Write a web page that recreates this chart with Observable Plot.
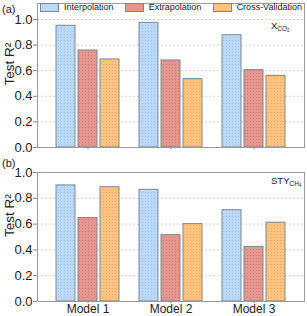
<!DOCTYPE html>
<html><head><meta charset="utf-8">
<script src="https://cdn.jsdelivr.net/npm/d3@7"></script>
<script src="https://cdn.jsdelivr.net/npm/@observablehq/plot@0.6"></script>
<style>
body{margin:0;background:#fff;font-family:"Liberation Sans",Arial,sans-serif;}
#wrap{position:relative;width:307px;height:316px;overflow:hidden;background:#fff}
.panel{position:absolute;left:0}
.tag{position:absolute;font-size:11px;color:#222;line-height:1}
.ann{position:absolute;font-size:9.5px;color:#222;line-height:1;white-space:nowrap}
.ann sub{font-size:6.5px;vertical-align:-2px;line-height:0}
.ann sub sub{font-size:4.5px;vertical-align:-1px}
#legend{position:absolute;left:40px;width:262px;top:3px;display:flex;justify-content:space-between;font-size:9px;color:#222;line-height:1}
#legend .it{display:flex;align-items:center;white-space:nowrap}
#legend .sw{width:17px;height:7px;border:1px solid #7d8792;margin-right:5px}
</style></head>
<body>
<div id="wrap"></div>
<script>
const models = ["Model 1", "Model 2", "Model 3"];
const methods = ["Interpolation", "Extrapolation", "Cross-Validation"];
const colors = ["#b9d9f6", "#e4968f", "#fdc47f"];
const dotColors = ["#a3c6e6", "#d07f79", "#eaae6a"];
const yTicks = [0, 0.2, 0.4, 0.6, 0.8, 1.0];

// Panel (a) X_CO2, values per method across models
const co2Interpolation = [0.951, 0.974, 0.877];
const co2Extrapolation = [0.758, 0.680, 0.604];
const co2CrossValidation = [0.688, 0.534, 0.560];

// Panel (b) STY_CH4
const ch4Interpolation = [0.900, 0.866, 0.708];
const ch4Extrapolation = [0.647, 0.514, 0.423];
const ch4CrossValidation = [0.886, 0.600, 0.611];

function rowsOf(series) {
  return models.flatMap((m, i) => methods.map((s, j) => ({model: m, method: s, value: series[j][i]})));
}
const rowsA = rowsOf([co2Interpolation, co2Extrapolation, co2CrossValidation]);
const rowsB = rowsOf([ch4Interpolation, ch4Extrapolation, ch4CrossValidation]);

const barStep = 22; // pixel step between bars inside a group

function patternDefs(prefix) {
  return () => {
    const ns = "http://www.w3.org/2000/svg";
    const defs = document.createElementNS(ns, "defs");
    colors.forEach((c, j) => {
      const p = document.createElementNS(ns, "pattern");
      p.setAttribute("id", prefix + j);
      p.setAttribute("width", 3); p.setAttribute("height", 3);
      p.setAttribute("patternUnits", "userSpaceOnUse");
      const r = document.createElementNS(ns, "rect");
      r.setAttribute("width", 3); r.setAttribute("height", 3); r.setAttribute("fill", c);
      const d = document.createElementNS(ns, "rect");
      d.setAttribute("x", 1); d.setAttribute("y", 1);
      d.setAttribute("width", 1); d.setAttribute("height", 1); d.setAttribute("fill", dotColors[j]);
      p.appendChild(r); p.appendChild(d); defs.appendChild(p);
    });
    return defs;
  };
}

function panel(rows, o) {
  const bars = methods.map((m, j) => Plot.barY(rows.filter(r => r.method === m), {
    x: "model", y: "value", fill: `url(#${o.id}${j})`, stroke: "#7d8792", strokeWidth: 1,
    insetLeft: j * barStep, insetRight: (2 - j) * barStep
  }));
  return Plot.plot({
    width: 307, height: o.height,
    marginLeft: 37, marginRight: 3, marginTop: o.mt, marginBottom: o.mb,
    style: {fontFamily: '"Liberation Sans", Arial, sans-serif', fontSize: "13px", color: "#222", background: "transparent", overflow: "visible"},
    x: {domain: models, paddingInner: 0.238, paddingOuter: 0.214, label: null},
    y: {domain: [0, o.ymax], label: null},
    marks: [
      patternDefs(o.id),
      Plot.gridY(o.grid, {stroke: "#d4d4d4", strokeOpacity: 1, strokeDasharray: "2,2"}),
      ...bars,
      Plot.frame({stroke: "#9a9a9a"}),
      Plot.axisY(yTicks, {tickFormat: d3.format(".1f"), tickSize: 4, tickPadding: 1, label: null, stroke: "#888", fill: "#222"}),
      Plot.axisX({tickSize: 2, tickPadding: 1, fontSize: 12, stroke: "#888", fill: "#222", tickFormat: o.labels ? (d => d) : (() => ""), label: null}),
      Plot.text(["Test R²"], {frameAnchor: "left", text: d => d, dx: -28, dy: o.labelDy, rotate: -90, fontSize: 13.5, fill: "#222"})
    ]
  });
}

const wrap = document.getElementById("wrap");
const a = panel(rowsA, {id: "pa", height: 152, mt: 3, mb: 5, ymax: 1.125, grid: [0.2, 0.4, 0.6, 0.8, 1.0], labels: false, labelDy: 10});
a.classList.add("panel"); a.style.top = "0px";
const b = panel(rowsB, {id: "pb", height: 164, mt: 20, mb: 15, ymax: 1.0, grid: [0.2, 0.4, 0.6, 0.8], labels: true, labelDy: 0});
b.classList.add("panel"); b.style.top = "152px";
wrap.appendChild(a);
wrap.appendChild(b);

// legend
const lg = document.createElement("div");
lg.id = "legend";
methods.forEach((m, i) => {
  const it = document.createElement("div"); it.className = "it";
  const sw = document.createElement("div"); sw.className = "sw"; sw.style.background = colors[i];
  const tx = document.createElement("span"); tx.textContent = m;
  it.appendChild(sw); it.appendChild(tx); lg.appendChild(it);
});
wrap.appendChild(lg);

function addHTML(cls, html, left, top) {
  const d = document.createElement("div"); d.className = cls; d.innerHTML = html;
  d.style.left = left + "px"; d.style.top = top + "px"; wrap.appendChild(d);
}
addHTML("tag", "(a)", 2, 4);
addHTML("tag", "(b)", 2, 158);
addHTML("ann", "X<sub>CO<sub>2</sub></sub>", 271, 21);
addHTML("ann", "STY<sub>CH<sub>4</sub></sub>", 271, 176);
</script>
</body></html>
